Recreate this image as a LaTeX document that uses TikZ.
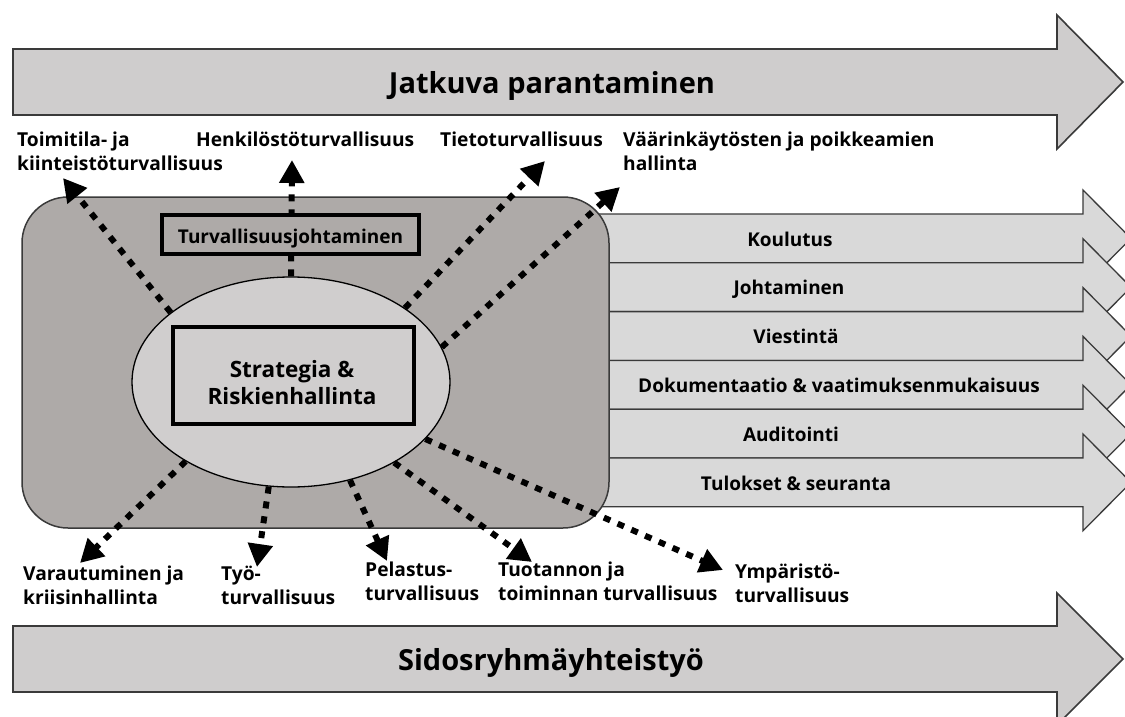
\documentclass[tikz,border=0pt]{standalone}
\usepackage{fontspec}
\setmainfont{Open Sans}
\usetikzlibrary{arrows.meta,shapes.geometric}
\definecolor{cBand}{HTML}{CFCDCD}
\definecolor{cTopic}{HTML}{D9D9D9}
\definecolor{cPanel}{HTML}{AEAAA8}
\definecolor{cCore}{HTML}{D0CECE}
\definecolor{cEdge}{HTML}{3A3A3A}
\begin{document}
\begin{tikzpicture}[x=1pt,y=-1pt,
  bandarrow/.style={fill=cBand, draw=cEdge, line width=1.6pt, line join=miter},
  topicarrow/.style={fill=cTopic, draw=cEdge, line width=1.3pt, line join=miter},
  bandlbl/.style={font=\bfseries\fontsize{29}{33}\selectfont, inner sep=0pt, anchor=base},
  topiclbl/.style={font=\bfseries\fontsize{19}{24}\selectfont, inner sep=0pt, anchor=base},
  lbl/.style={font=\bfseries\fontsize{19.2}{24}\selectfont, inner sep=0pt, align=left, anchor=north west},
  dotarrow/.style={line width=6pt, dash pattern=on 7pt off 8pt, -{Triangle[length=23pt,width=24pt]}},
  framebox/.style={draw=black, line width=4pt, inner sep=0pt}
]
\clip (0,0) rectangle (1125,717);
\fill[white] (0,0) rectangle (1125,717);

% big band arrows
\draw[bandarrow] (13,49) -- (1057,49) -- (1057,15) -- (1123,82) -- (1057,149) -- (1057,115) -- (13,115) -- cycle;
\node[bandlbl] (jatkuva) at (552,93) {Jatkuva parantaminen};
\draw[bandarrow] (13,626) -- (1057,626) -- (1057,593) -- (1123,659) -- (1057,725) -- (1057,692) -- (13,692) -- cycle;
\node[bandlbl] (sidos) at (551,670) {Sidosryhmäyhteistyö};

% topic arrows on the right
\foreach \i/\lab/\cx [evaluate=\i as \yt using 214+48.8*\i] in
  {0/Koulutus/790, 1/Johtaminen/789, 2/Viestintä/796,
   3/{Dokumentaatio \& vaatimuksenmukaisuus}/839, 4/Auditointi/791,
   5/{Tulokset \& seuranta}/796}
{
  \draw[topicarrow] (595,\yt) -- (1083,\yt) -- (1083,\yt-24) -- (1131,\yt+24.4)
     -- (1083,\yt+72.8) -- (1083,\yt+48.8) -- (595,\yt+48.8) -- cycle;
  \node[topiclbl] (topic\i) at (\cx,\yt+32) {\lab};
}

% central panel
\node[draw=cEdge, fill=cPanel, line width=1.5pt, rounded corners=46pt,
      minimum width=587pt, minimum height=331pt, inner sep=0pt] (panel) at (315.5,362.5) {};
\node[ellipse, draw=black, fill=cCore, line width=1.3pt,
      minimum width=318pt, minimum height=210pt, inner sep=0pt] (ell) at (291,382) {};

% tips of the dotted arrows
\coordinate (tToimitila) at (63,178);
\coordinate (tHenkilo) at (292,160);
\coordinate (tTieto) at (545,161);
\coordinate (tVaarin) at (620,187);
\coordinate (tVarau) at (80,563);
\coordinate (tTyo) at (257,567);
\coordinate (tPelastus) at (387,561);
\coordinate (tTuotanto) at (532,562);
\coordinate (tYmparisto) at (723,570);

\draw[dotarrow] (ell.150) -- (tToimitila);
\draw[dotarrow] (ell.90) -- (tHenkilo);
\draw[dotarrow] (ell.33) -- (tTieto);
\draw[dotarrow] (ell.13.5) -- (tVaarin);
\draw[dotarrow] (ell.217) -- (tVarau);
\draw[dotarrow] (ell.258) -- (tTyo);
\draw[dotarrow] (ell.301) -- (tPelastus);
\draw[dotarrow] (ell.322.5) -- (tTuotanto);
\draw[dotarrow] (ell.337) -- (tYmparisto);

% boxes
\node[framebox, fill=cPanel, minimum width=257pt, minimum height=39pt,
      font=\bfseries\fontsize{19}{24}\selectfont, text height=17pt, text depth=0pt]
      (turva) at (290.5,234.5) {Turvallisuusjohtaminen};
\node[framebox, fill=cCore, minimum width=241pt, minimum height=97pt] (stratbox) at (293.5,375.5) {};
\node[font=\bfseries\fontsize{22.5}{27}\selectfont, align=center, inner sep=0pt, anchor=north]
      (strat) at (292,360.5) {Strategia \&\\Riskienhallinta};

% outer labels
\node[lbl] (lToimitila) at (17,132) {Toimitila- ja\\kiinteistöturvallisuus};
\node[lbl] (lHenkilo) at (196,132) {Henkilöstöturvallisuus};
\node[lbl] (lTieto) at (440,132) {Tietoturvallisuus};
\node[lbl] (lVaarin) at (623,132) {Väärinkäytösten ja poikkeamien\\hallinta};
\node[lbl] (lVarau) at (23,566) {Varautuminen ja\\kriisinhallinta};
\node[lbl] (lTyo) at (221,566) {Työ-\\turvallisuus};
\node[lbl] (lPelastus) at (365,562) {Pelastus-\\turvallisuus};
\node[lbl] (lTuotanto) at (498,562) {Tuotannon ja\\toiminnan turvallisuus};
\node[lbl] (lYmparisto) at (735,564) {Ympäristö-\\turvallisuus};
\end{tikzpicture}
\end{document}
